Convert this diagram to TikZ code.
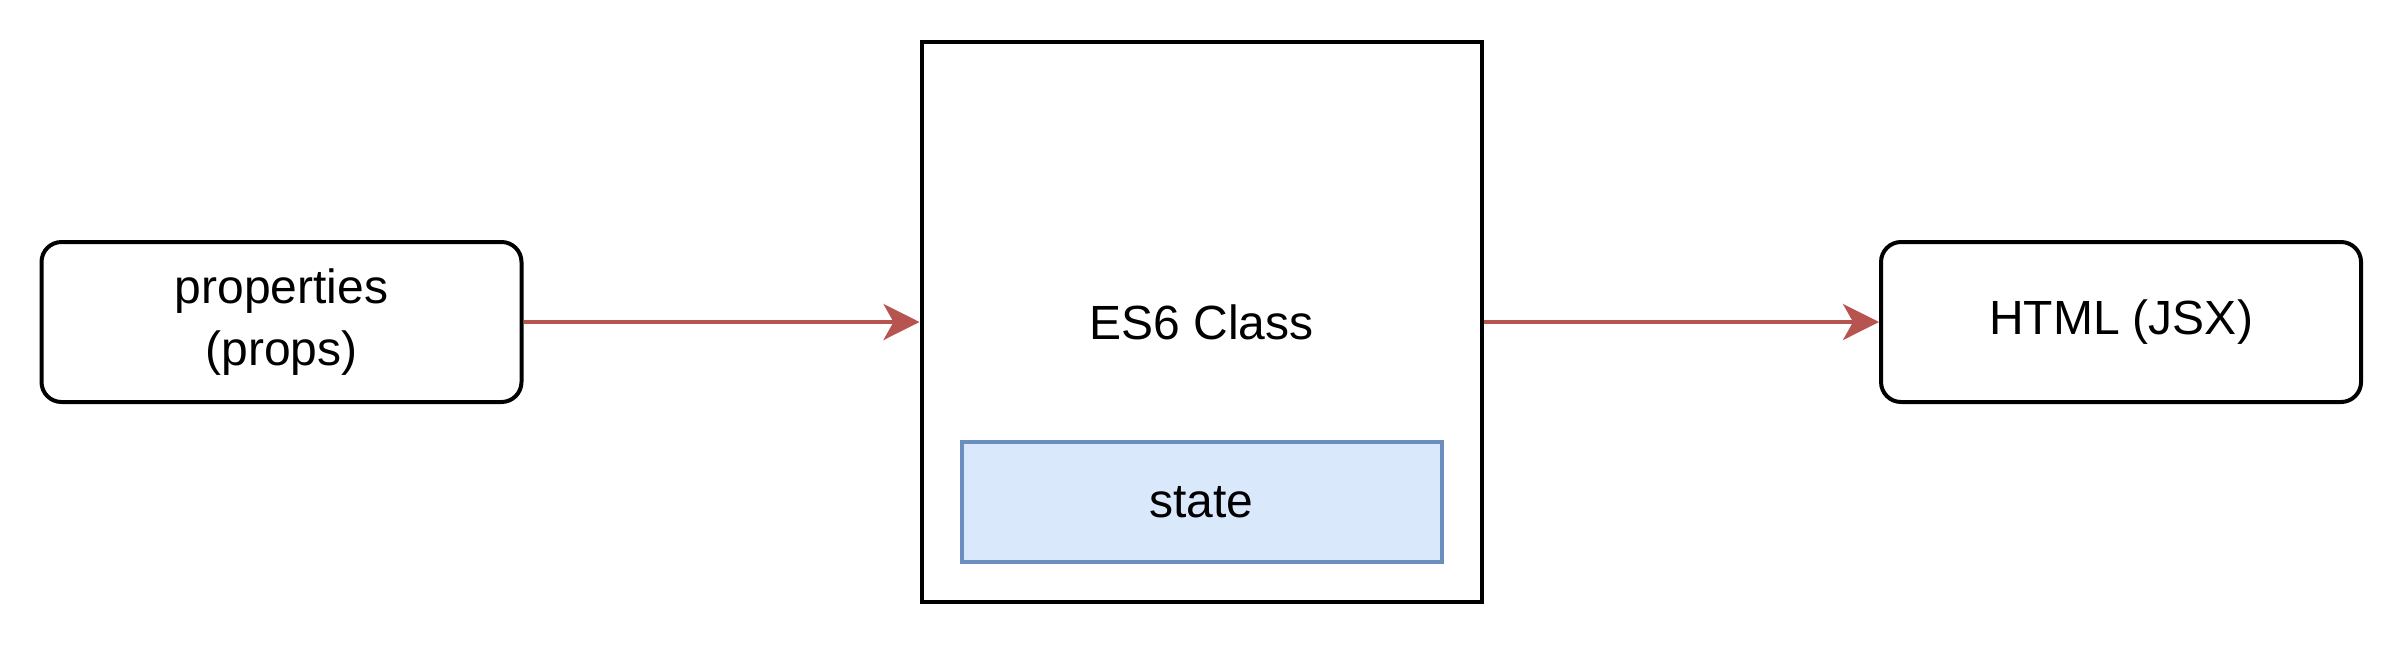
\documentclass[tikz,border=0pt]{standalone}
\usepackage{fontspec}
\setmainfont{Liberation Sans}
\usetikzlibrary{arrows.meta}
\definecolor{arrowred}{HTML}{B85450}
\definecolor{statefill}{HTML}{DAE8FC}
\definecolor{statedraw}{HTML}{6C8EBF}
\tikzset{
  px/.style={x=0.25pt,y=-0.25pt},
  roundbox/.style={draw=black, line width=1pt, rounded corners=5pt, fill=white,
    minimum width=120pt, minimum height=40pt, align=center, inner sep=0pt,
    font=\fontsize{12pt}{15.5pt}\selectfont},
  classbox/.style={draw=black, line width=1pt, fill=white,
    minimum width=140pt, minimum height=140pt, inner sep=0pt,
    font=\fontsize{12pt}{15.5pt}\selectfont},
  statebox/.style={draw=statedraw, fill=statefill, line width=1pt,
    minimum width=120pt, minimum height=30pt, inner sep=0pt,
    font=\fontsize{12pt}{15.5pt}\selectfont},
  flow/.style={draw=arrowred, line width=1pt,
    -{Stealth[length=9pt, width=9pt, inset=2.5pt, fill=arrowred]}},
}
\begin{document}
\begin{tikzpicture}[px]
\useasboundingbox (0,0) rectangle (2404,644);
\node[roundbox] (props) at (281.5,322) {properties\\(props)};
\node[classbox] (cls) at (1201.5,322) {ES6 Class};
\node[statebox] (state) at (1201.5,502) {state};
\node[roundbox] (html) at (2121,322) {HTML (JSX)};
\draw[flow] (props.east) -- (cls.west);
\draw[flow] (cls.east) -- (html.west);
\end{tikzpicture}
\end{document}
